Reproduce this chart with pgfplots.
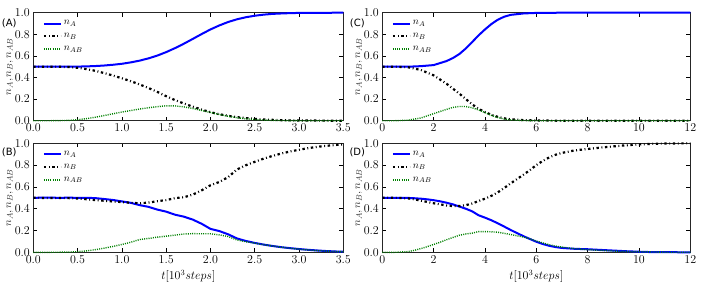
\documentclass[border=0pt]{standalone}
\usepackage{fontspec}
\usepackage{pgfplots}
\pgfplotsset{compat=1.18}
\usepackage{pgfplotstable}
\newfontfamily\dejavu{DejaVu Sans}

\pgfplotstableread{
t nA nB nAB
0.0 0.500 0.500 0.000
0.1 0.500 0.500 0.000
0.2 0.500 0.500 0.000
0.3 0.500 0.499 0.001
0.4 0.500 0.497 0.003
0.5 0.501 0.490 0.009
0.6 0.503 0.478 0.019
0.7 0.506 0.462 0.032
0.8 0.511 0.441 0.048
0.9 0.518 0.418 0.064
1.0 0.527 0.393 0.080
1.1 0.540 0.366 0.094
1.2 0.556 0.336 0.108
1.3 0.577 0.303 0.120
1.4 0.603 0.267 0.130
1.5 0.635 0.227 0.138
1.6 0.672 0.191 0.137
1.7 0.713 0.159 0.128
1.8 0.757 0.130 0.113
1.9 0.802 0.103 0.095
2.0 0.845 0.079 0.076
2.1 0.882 0.060 0.058
2.2 0.914 0.045 0.041
2.3 0.939 0.033 0.028
2.4 0.958 0.024 0.018
2.5 0.972 0.017 0.011
2.6 0.982 0.012 0.006
2.7 0.989 0.008 0.003
2.8 0.993 0.005 0.002
2.9 0.996 0.003 0.001
3.0 0.998 0.002 0.000
3.2 0.999 0.001 0.000
3.5 1.000 0.000 0.000
}\dataA

\pgfplotstableread{
t nA nB nAB
0.0 0.500 0.500 0.000
0.5 0.500 0.500 0.000
1.0 0.500 0.495 0.005
1.5 0.505 0.470 0.025
2.0 0.515 0.420 0.065
2.5 0.552 0.343 0.105
2.75 0.580 0.297 0.123
3.0 0.617 0.251 0.132
3.25 0.668 0.201 0.131
3.5 0.728 0.152 0.120
3.75 0.790 0.110 0.100
4.0 0.845 0.080 0.075
4.25 0.895 0.055 0.050
4.5 0.935 0.035 0.030
4.75 0.963 0.022 0.015
5.0 0.980 0.013 0.007
5.5 0.993 0.005 0.002
6.0 0.998 0.002 0.000
7.0 1.000 0.000 0.000
12.0 1.000 0.000 0.000
}\dataC

\pgfplotstableread{
t nA nB nAB
0.0 0.500 0.500 0.000
0.1 0.501 0.499 0.000
0.2 0.501 0.499 0.000
0.3 0.500 0.499 0.001
0.4 0.501 0.497 0.002
0.5 0.500 0.494 0.006
0.6 0.500 0.487 0.013
0.7 0.497 0.479 0.024
0.8 0.489 0.473 0.038
0.9 0.480 0.466 0.054
1.0 0.467 0.461 0.072
1.1 0.454 0.454 0.092
1.2 0.433 0.450 0.117
1.3 0.417 0.456 0.127
1.4 0.392 0.469 0.139
1.5 0.373 0.479 0.148
1.6 0.345 0.497 0.158
1.7 0.327 0.505 0.168
1.8 0.300 0.529 0.171
1.9 0.262 0.568 0.170
2.0 0.215 0.615 0.170
2.1 0.195 0.645 0.160
2.2 0.165 0.690 0.145
2.3 0.127 0.760 0.113
2.4 0.104 0.799 0.097
2.5 0.086 0.830 0.084
2.6 0.071 0.859 0.070
2.7 0.058 0.884 0.058
2.8 0.047 0.906 0.047
2.9 0.038 0.925 0.037
3.0 0.030 0.941 0.029
3.1 0.023 0.955 0.022
3.2 0.017 0.967 0.016
3.3 0.012 0.976 0.012
3.4 0.008 0.984 0.008
3.5 0.005 0.990 0.005
}\dataB

\pgfplotstableread{
t nA nB nAB
0.0 0.500 0.500 0.000
0.5 0.500 0.500 0.000
1.0 0.499 0.495 0.006
1.25 0.496 0.486 0.018
1.5 0.492 0.474 0.034
1.75 0.486 0.462 0.052
2.0 0.478 0.450 0.072
2.25 0.468 0.440 0.092
2.5 0.455 0.430 0.115
2.75 0.440 0.424 0.136
3.0 0.420 0.424 0.156
3.25 0.400 0.432 0.168
3.5 0.376 0.448 0.176
3.75 0.340 0.470 0.190
4.0 0.318 0.492 0.190
4.25 0.294 0.518 0.188
4.5 0.266 0.550 0.184
4.75 0.236 0.590 0.174
5.0 0.205 0.632 0.163
5.25 0.176 0.672 0.152
5.5 0.148 0.712 0.140
5.75 0.122 0.754 0.124
6.0 0.097 0.800 0.103
6.25 0.076 0.838 0.086
6.5 0.060 0.870 0.070
6.75 0.048 0.895 0.057
7.0 0.040 0.912 0.048
7.5 0.032 0.935 0.033
8.0 0.028 0.948 0.024
8.5 0.022 0.960 0.018
9.0 0.016 0.972 0.012
9.5 0.010 0.982 0.008
10.0 0.005 0.990 0.005
10.5 0.002 0.995 0.003
11.0 0.001 0.998 0.001
12.0 0.000 1.000 0.000
}\dataD

\pgfplotsset{legend image code/.code={\draw[#1] (0pt,0pt) -- (17pt,0pt);}}
\pgfplotsset{
  panel/.style={
    scale only axis, height=108pt,
    ymin=0, ymax=1, ytick={0,0.2,0.4,0.6,0.8,1.0},
    yticklabel style={/pgf/number format/.cd, fixed, fixed zerofill, precision=1},
    tick align=inside, major tick length=4pt,
    tick style={black, line width=0.6pt},
    axis line style={black!85, line width=0.8pt},
    ticklabel style={font=\fontsize{12}{12}\selectfont},
    ylabel={$n_A, n_B, n_{AB}$},
    ylabel style={font=\fontsize{11}{11}\selectfont, text=black!80,
      at={(axis description cs:-0.076,0.5)}, anchor=center},
    xlabel style={font=\fontsize{12}{12}\selectfont},
    legend style={draw=none, fill=none, at={(0.02,0.965)}, anchor=north west,
      font=\fontsize{10}{10}\selectfont, row sep=3pt},
    legend cell align=left,
    clip=false,
  },
  panelA/.style={panel, width=310pt, xmin=0, xmax=3.5, xtick={0,0.5,1,1.5,2,2.5,3,3.5},
    xticklabel style={/pgf/number format/.cd, fixed, fixed zerofill, precision=1}},
  panelC/.style={panel, width=308pt, xmin=0, xmax=12, xtick={0,2,4,6,8,10,12}},
  sA/.style={color=blue, line width=2pt},
  sB/.style={color=black, line width=2.2pt, dash pattern=on 2.4pt off 2.6pt on 0.9pt off 2.6pt},
  sAB/.style={color=green!50!black, line width=1.4pt, dash pattern=on 1pt off 1.2pt},
}

\begin{document}
\begin{tikzpicture}
\useasboundingbox (0pt,0pt) rectangle (702pt,285pt);
% (A)
\begin{axis}[panelA, at={(33.3pt,164.3pt)}, anchor=south west]
\addplot[sA] table[x=t,y=nA] {\dataA};
\addplot[sB] table[x=t,y=nB] {\dataA};
\addplot[sAB] table[x=t,y=nAB] {\dataA};
\legend{$n_A$,$n_B$,$n_{AB}$}
\node[font=\dejavu\fontsize{10}{10}\selectfont, xshift=-24pt, yshift=-10.5pt] at (rel axis cs:0,1) {(A)};
\end{axis}
% (C)
\begin{axis}[panelC, at={(382.3pt,164.3pt)}, anchor=south west]
\addplot[sA] table[x=t,y=nA] {\dataC};
\addplot[sB] table[x=t,y=nB] {\dataC};
\addplot[sAB] table[x=t,y=nAB] {\dataC};
\legend{$n_A$,$n_B$,$n_{AB}$}
\node[font=\dejavu\fontsize{10}{10}\selectfont, xshift=-25pt, yshift=-10.5pt] at (rel axis cs:0,1) {(C)};
\end{axis}
% (B)
\begin{axis}[panelA, height=109pt, at={(33.3pt,32.7pt)}, anchor=south west, xlabel={$t[10^3 steps]$}]
\addplot[sA] table[x=t,y=nA] {\dataB};
\addplot[sB] table[x=t,y=nB] {\dataB};
\addplot[sAB] table[x=t,y=nAB] {\dataB};
\legend{$n_A$,$n_B$,$n_{AB}$}
\node[font=\dejavu\fontsize{10}{10}\selectfont, xshift=-24pt, yshift=-9pt] at (rel axis cs:0,1) {(B)};
\end{axis}
% (D)
\begin{axis}[panelC, height=109pt, at={(382.3pt,32.7pt)}, anchor=south west, xlabel={$t[10^3 steps]$}]
\addplot[sA] table[x=t,y=nA] {\dataD};
\addplot[sB] table[x=t,y=nB] {\dataD};
\addplot[sAB] table[x=t,y=nAB] {\dataD};
\legend{$n_A$,$n_B$,$n_{AB}$}
\node[font=\dejavu\fontsize{10}{10}\selectfont, xshift=-25pt, yshift=-9pt] at (rel axis cs:0,1) {(D)};
\end{axis}
\end{tikzpicture}
\end{document}
